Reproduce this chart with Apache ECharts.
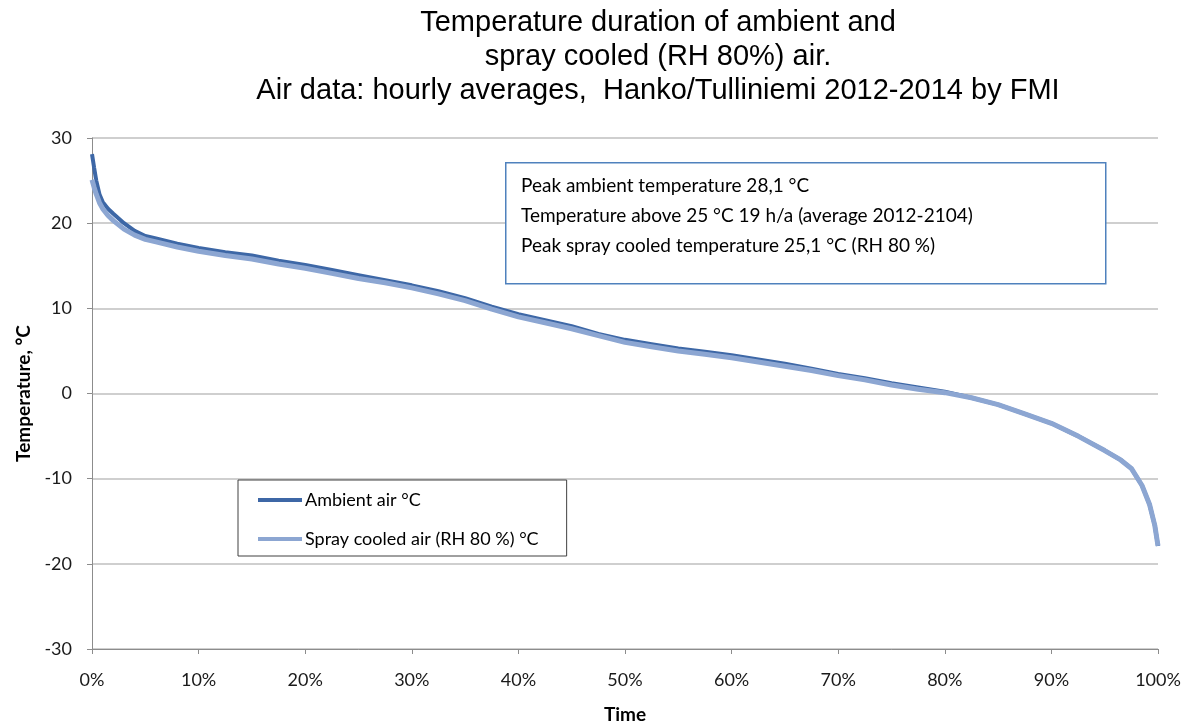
<!DOCTYPE html>
<html>
<head>
<meta charset="utf-8">
<script src="https://cdn.jsdelivr.net/npm/echarts@6/dist/echarts.min.js"></script>
<style>
  html, body { margin: 0; padding: 0; background: #ffffff; }
  #chart { width: 1184px; height: 721px; }
</style>
</head>
<body>
<div id="chart"></div>
<script>
// Share of the year (%) at which each temperature is reached or exceeded
const durationPct = [0, 0.2, 0.4, 0.7, 1, 1.5, 2, 3, 4, 5, 6, 8, 10, 12.5, 15, 17.5, 20, 22.5, 25, 27.5,
  30, 32.5, 35, 37.5, 40, 42.5, 45, 47.5, 50, 52.5, 55, 57.5, 60, 62.5, 65, 67.5, 70, 72.5, 75, 77.5,
  80, 82.5, 85, 87.5, 90, 92.5, 95, 96.5, 97.5, 98.5, 99.2, 99.7, 100];

// Ambient air temperature, °C
const ambientTemp = [28.1, 26.5, 25.0, 23.4, 22.5, 21.7, 21.1, 20.0, 19.1, 18.5, 18.2, 17.6, 17.1, 16.6, 16.2, 15.6, 15.1, 14.5, 13.9, 13.3,
  12.7, 12.0, 11.2, 10.2, 9.3, 8.6, 7.9, 7.0, 6.3, 5.8, 5.3, 4.9, 4.5, 4.0, 3.5, 2.9, 2.3, 1.8, 1.2, 0.7,
  0.2, -0.5, -1.3, -2.4, -3.5, -5.0, -6.7, -7.8, -8.8, -10.8, -13.0, -15.5, -17.9];

// Spray cooled air temperature (RH 80 %), °C
const sprayTemp = [25.1, 24.2, 23.4, 22.4, 21.7, 20.9, 20.3, 19.3, 18.6, 18.1, 17.8, 17.2, 16.7, 16.2, 15.8, 15.2, 14.7, 14.1, 13.5, 13.0,
  12.4, 11.7, 10.9, 9.9, 9.0, 8.3, 7.6, 6.8, 6.0, 5.5, 5.0, 4.6, 4.2, 3.7, 3.2, 2.7, 2.1, 1.6, 1.0, 0.5,
  0.1, -0.5, -1.3, -2.4, -3.5, -5.0, -6.7, -7.8, -8.8, -10.8, -13.0, -15.5, -17.9];

const seriesNames = ['Ambient air °C', 'Spray cooled air (RH 80 %) °C'];
const titleLines = [
  'Temperature duration of ambient and',
  'spray cooled (RH 80%) air.',
  'Air data: hourly averages,  Hanko/Tulliniemi 2012-2014 by FMI'
];
const noteLines = [
  'Peak ambient temperature 28,1 °C',
  'Temperature above 25 °C 19 h/a (average 2012-2104)',
  'Peak spray cooled temperature 25,1 °C (RH 80 %)'
];

const ambientColor = '#3d67a6';
const sprayColor = '#8ca6d2';
const uiFont = 'Lato, "Open Sans", sans-serif';

const chart = echarts.init(document.getElementById('chart'), null, { renderer: 'canvas' });

chart.setOption({
  backgroundColor: '#ffffff',
  animation: false,
  title: {
    text: titleLines.join('\n'),
    left: 653,
    textAlign: 'center',
    top: 1,
    textStyle: {
      fontFamily: '"Liberation Sans", Arial, sans-serif',
      fontWeight: 'normal',
      fontSize: 29,
      lineHeight: 34,
      color: '#000000'
    }
  },
  grid: { left: 92, right: 26, top: 138, bottom: 72, containLabel: false, outerBoundsMode: 'none' },
  legend: {
    orient: 'vertical',
    left: 238,
    top: 480,
    padding: [11, 28, 8, 20],
    itemGap: 21,
    itemWidth: 44,
    itemHeight: 4,
    borderColor: '#404040',
    borderWidth: 1,
    icon: 'rect',
    textStyle: { fontFamily: uiFont, fontSize: 18, color: '#000000', padding: [0, 0, 0, -2] },
    data: seriesNames
  },
  xAxis: {
    type: 'value',
    min: 0,
    max: 100,
    interval: 10,
    name: 'Time',
    nameLocation: 'middle',
    nameGap: 56,
    nameTextStyle: { fontFamily: uiFont, fontSize: 19, fontWeight: 'bold', color: '#000000' },
    axisLine: { onZero: false, lineStyle: { color: '#8c8c8c', width: 1 } },
    axisTick: { show: true, length: 5, lineStyle: { color: '#8c8c8c' } },
    axisLabel: { formatter: '{value}%', fontFamily: uiFont, fontSize: 18, color: '#1a1a1a', margin: 22 },
    splitLine: { show: false }
  },
  yAxis: {
    type: 'value',
    min: -30,
    max: 30,
    interval: 10,
    name: 'Temperature, °C',
    nameLocation: 'middle',
    nameGap: 55,
    nameTextStyle: { fontFamily: uiFont, fontSize: 19, fontWeight: 'bold', color: '#000000' },
    axisLine: { show: true, lineStyle: { color: '#8c8c8c', width: 1 } },
    axisTick: { show: true, length: 5, lineStyle: { color: '#8c8c8c' } },
    axisLabel: { fontFamily: uiFont, fontSize: 18, color: '#1a1a1a', margin: 20 },
    splitLine: { show: true, lineStyle: { color: '#bfbfbf', width: 1.5 } }
  },
  graphic: [{
    type: 'rect',
    left: 505,
    top: 162,
    z: 100,
    shape: { width: 600, height: 121 },
    style: { fill: '#ffffff', stroke: '#4f81bd', lineWidth: 1.5 }
  }, {
    type: 'text',
    left: 521,
    top: 171,
    z: 101,
    style: {
      text: noteLines.join('\n'),
      fontFamily: uiFont,
      fontSize: 19,
      lineHeight: 30,
      fill: '#000000'
    }
  }],
  series: [{
    name: seriesNames[0],
    type: 'line',
    data: durationPct.map((p, i) => [p, ambientTemp[i]]),
    showSymbol: false,
    smooth: false,
    lineStyle: { color: ambientColor, width: 4 },
    itemStyle: { color: ambientColor },
    z: 2
  }, {
    name: seriesNames[1],
    type: 'line',
    data: durationPct.map((p, i) => [p, sprayTemp[i]]),
    showSymbol: false,
    smooth: false,
    lineStyle: { color: sprayColor, width: 5 },
    itemStyle: { color: sprayColor },
    z: 3
  }]
});
</script>
</body>
</html>
